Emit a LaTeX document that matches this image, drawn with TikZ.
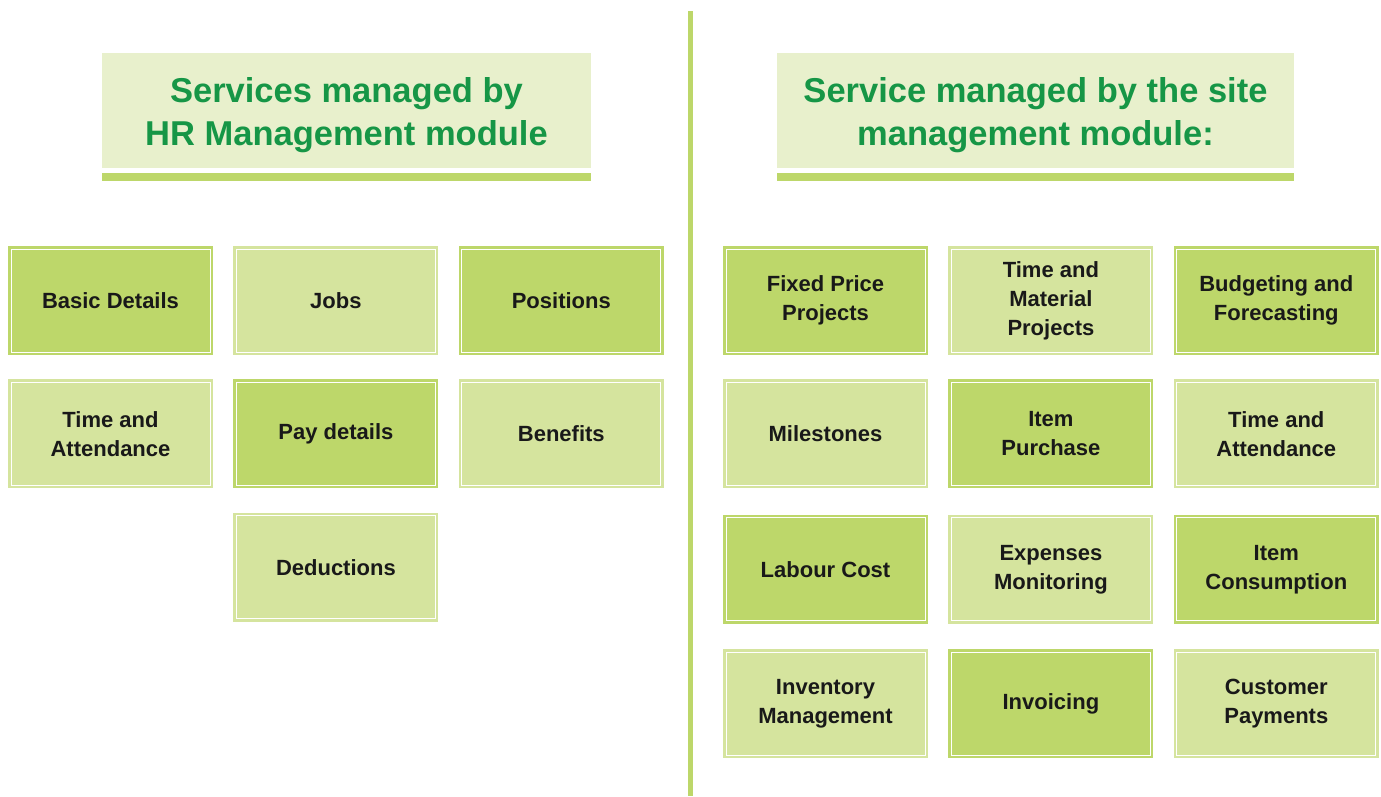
\documentclass[tikz,border=0pt]{standalone}
\usepackage{fontspec}
\setmainfont{Liberation Sans}
\usepackage{tikz}
\usetikzlibrary{positioning}
\newcommand{\titlestrut}{\rule{0pt}{35pt}}
\definecolor{darkleaf}{RGB}{189,215,106}
\definecolor{lightleaf}{RGB}{213,228,158}
\definecolor{paleleaf}{RGB}{232,240,204}
\definecolor{titlegreen}{RGB}{22,150,70}
\tikzstyle{service} = [rectangle, minimum width=205pt, minimum height=109pt, inner sep=0pt, align=center, text=black!90, font=\fontsize{22}{29}\selectfont\bfseries, path picture={\draw[white, line width=1pt] ([shift={(3pt,-3pt)}]path picture bounding box.north west) rectangle ([shift={(-3pt,3pt)}]path picture bounding box.south east);}]
\tikzstyle{darkservice} = [service, fill=darkleaf]
\tikzstyle{lightservice} = [service, fill=lightleaf]
\tikzstyle{moduletitle} = [rectangle, fill=paleleaf, minimum height=115pt, inner sep=0pt, align=center, text=titlegreen, font=\fontsize{34.5}{43}\selectfont\bfseries]
\tikzstyle{titlebar} = [fill=darkleaf]
\begin{document}
\begin{tikzpicture}[x=1pt, y=-1pt]
	\useasboundingbox (0,0) rectangle (1381,796);
	% module titles
	\node[moduletitle, minimum width=489pt] (hrtitle) at (346.5,110.5) {\titlestrut Services managed by\\HR Management module};
	\node[moduletitle, minimum width=517pt] (sitetitle) at (1035.5,110.5) {\titlestrut Service managed by the site\\management module:};
	\fill[titlebar] ([yshift=-5pt]hrtitle.south west) rectangle ([yshift=-13pt]hrtitle.south east);
	\fill[titlebar] ([yshift=-5pt]sitetitle.south west) rectangle ([yshift=-13pt]sitetitle.south east);
	\coordinate (divtop) at (690.5,11);
	\coordinate (divbottom) at (690.5,796);
	\draw[darkleaf, line width=5pt] (divtop) -- (divbottom);
	% HR services
	\node[darkservice] (basic) at (110.5,300.5) {Basic Details};
	\node[lightservice, right=20pt of basic] (jobs) {Jobs};
	\node[darkservice, right=20pt of jobs] (positions) {Positions};
	\node[lightservice, below=24pt of basic] (hrtime) {Time and\\Attendance};
	\node[darkservice, right=20pt of hrtime] (pay) {Pay details};
	\node[lightservice, right=20pt of pay] (benefits) {Benefits};
	\node[lightservice, below=24pt of pay] (deductions) {Deductions};
	% site services
	\node[darkservice] (fixed) at (825.5,300.5) {Fixed Price\\Projects};
	\node[lightservice, right=20pt of fixed] (material) {Time and\\Material\\Projects};
	\node[darkservice, right=20pt of material] (budget) {Budgeting and\\Forecasting};
	\node[lightservice, below=24pt of fixed] (milestones) {Milestones};
	\node[darkservice, right=20pt of milestones] (purchase) {Item\\Purchase};
	\node[lightservice, right=20pt of purchase] (sitetime) {Time and\\Attendance};
	\node[darkservice, below=26pt of milestones] (labour) {Labour Cost};
	\node[lightservice, right=20pt of labour] (expenses) {Expenses\\Monitoring};
	\node[darkservice, right=20pt of expenses] (consumption) {Item\\Consumption};
	\node[lightservice, below=25pt of labour] (inventory) {Inventory\\Management};
	\node[darkservice, right=20pt of inventory] (invoicing) {Invoicing};
	\node[lightservice, right=20pt of invoicing] (payments) {Customer\\Payments};
\end{tikzpicture}
\end{document}
